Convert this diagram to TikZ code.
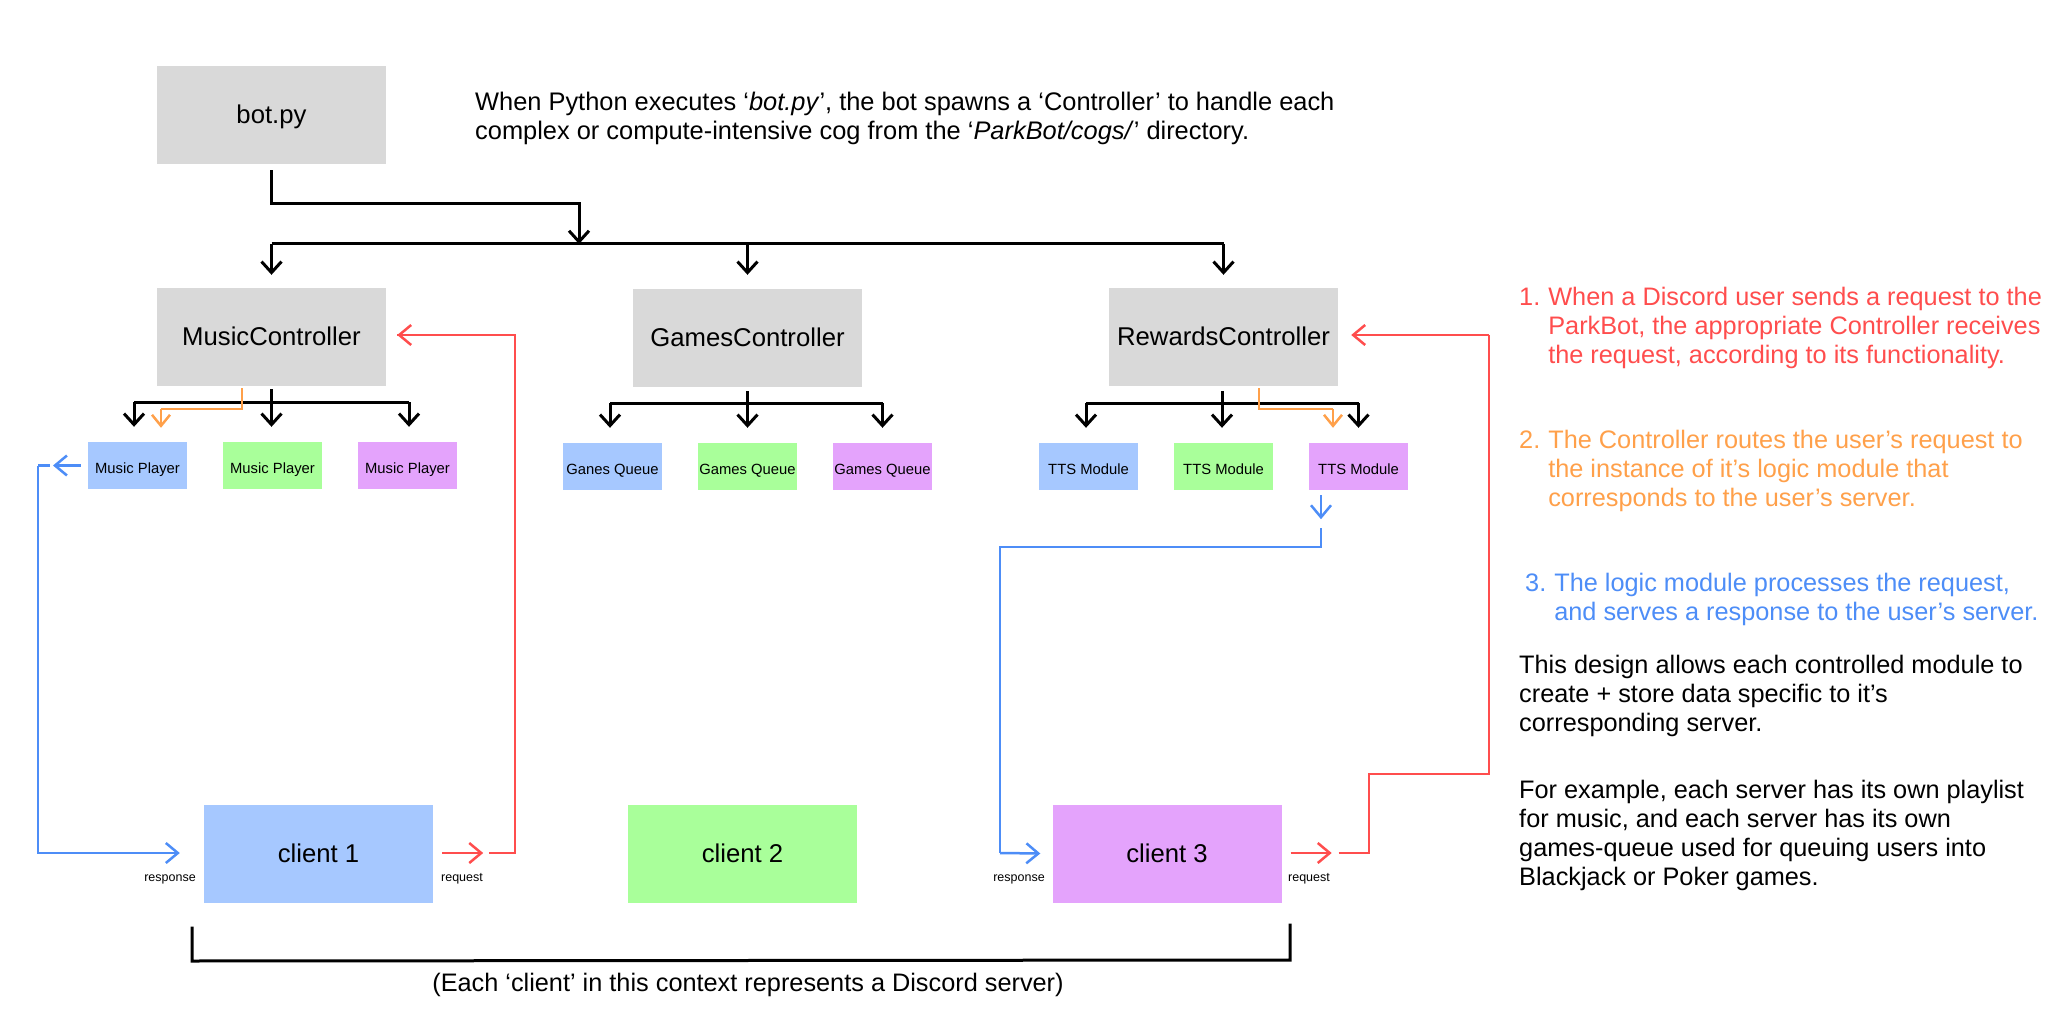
\documentclass[tikz,border=0pt]{standalone}
\usepackage{fontspec}
\setmainfont{Liberation Sans}
\usetikzlibrary{arrows.meta,calc}
\definecolor{boxgray}{HTML}{D9D9D9}
\definecolor{boxblue}{HTML}{A6C8FF}
\definecolor{boxgreen}{HTML}{A9FF9A}
\definecolor{boxpurple}{HTML}{E4A3FC}
\definecolor{linered}{HTML}{FF4D4D}
\definecolor{lineorange}{HTML}{FFA04A}
\definecolor{lineblue}{HTML}{4D8DF7}
\begin{document}
\begin{tikzpicture}[x=1pt,y=-1pt,
  bigbox/.style={fill=boxgray, minimum width=229pt, minimum height=98pt, inner sep=0pt, text height=17pt, text depth=0pt, font=\fontsize{25.7}{28}\selectfont},
  clientbox/.style={minimum width=229pt, minimum height=98pt, inner sep=0pt, text height=17.5pt, text depth=0pt, font=\fontsize{25.7}{28}\selectfont},
  smallbox/.style={minimum width=99pt, minimum height=47pt, inner sep=0pt, text height=15pt, text depth=0pt, font=\fontsize{14.8}{17}\selectfont},
  blk/.style={line width=3pt, black},
  blkarr/.style={blk, -{Straight Barb[length=11pt,width=20pt,line width=3pt]}},
  redln/.style={line width=2.5pt, linered},
  redarr/.style={redln, -{Straight Barb[length=12pt,width=20pt,line width=2.5pt]}},
  blueln/.style={line width=2.5pt, lineblue},
  bluearr/.style={blueln, -{Straight Barb[length=12pt,width=20pt,line width=2.5pt]}},
  orarr/.style={line width=2.5pt, lineorange, -{Straight Barb[length=11pt,width=18pt,line width=2.5pt]}},
  lbl/.style={font=\fontsize{12.5}{15}\selectfont, inner sep=0pt, anchor=base},
  note/.style={inner sep=0pt, align=left, font=\fontsize{25.3}{29}\selectfont}
]
\useasboundingbox (0,0) rectangle (2070,1024);

% main boxes
\node[bigbox] (bot) at (271.5,115) {bot.py};
\node[bigbox] (mc) at (271.5,337) {MusicController};
\node[bigbox] (gc) at (747.5,338) {GamesController};
\node[bigbox] (rc) at (1223.5,337) {RewardsController};

% modules
\node[smallbox, fill=boxblue] (mp1) at (137.5,465.5) {Music Player};
\node[smallbox, fill=boxgreen] (mp2) at (272.5,465.5) {Music Player};
\node[smallbox, fill=boxpurple] (mp3) at (407.5,465.5) {Music Player};
\node[smallbox, fill=boxblue] (gq1) at (612.5,466.5) {Ganes Queue};
\node[smallbox, fill=boxgreen] (gq2) at (747.5,466.5) {Games Queue};
\node[smallbox, fill=boxpurple] (gq3) at (882.5,466.5) {Games Queue};
\node[smallbox, fill=boxblue] (tt1) at (1088.5,466.5) {TTS Module};
\node[smallbox, fill=boxgreen] (tt2) at (1223.5,466.5) {TTS Module};
\node[smallbox, fill=boxpurple] (tt3) at (1358.5,466.5) {TTS Module};

% clients
\node[clientbox, fill=boxblue] (c1) at (318.5,854) {client 1};
\node[clientbox, fill=boxgreen] (c2) at (742.5,854) {client 2};
\node[clientbox, fill=boxpurple] (c3) at (1167,853.5) {client 3};

% text
\node[note, anchor=west, font=\fontsize{25.4}{29}\selectfont] (desc) at (475,118.5)
  {When Python executes ‘\textit{bot.py}’, the bot spawns a ‘Controller’ to handle each\\
   complex or compute-intensive cog from the ‘\textit{ParkBot/cogs/}’ directory.};

\node[note, anchor=west, text=linered] (n1) at (1519,329)
  {\begin{tabular}{@{}l@{\hspace{8pt}}l@{}}1.&When a Discord user sends a request to the\\
   &ParkBot, the appropriate Controller receives\\
   &the request, according to its functionality.\end{tabular}};
\node[note, anchor=west, text=lineorange] (n2) at (1519,472)
  {\begin{tabular}{@{}l@{\hspace{8pt}}l@{}}2.&The Controller routes the user’s request to\\
   &the instance of it’s logic module that\\
   &corresponds to the user’s server.\end{tabular}};
\node[note, anchor=west, text=lineblue] (n3) at (1525,600)
  {\begin{tabular}{@{}l@{\hspace{8pt}}l@{}}3.&The logic module processes the request,\\
   &and serves a response to the user’s server.\end{tabular}};
\node[note, anchor=west] (p1) at (1519,696)
  {This design allows each controlled module to\\
   create + store data specific to it’s\\
   corresponding server.};
\node[note, anchor=west] (p2) at (1519,835.5)
  {For example, each server has its own playlist\\
   for music, and each server has its own\\
   games-queue used for queuing users into\\
   Blackjack or Poker games.};

\node[note, font=\fontsize{25.3}{28}\selectfont] (cap) at (748,985)
  {(Each ‘client’ in this context represents a Discord server)};

% labels
\node[lbl] (l1) at (170,881) {response};
\node[lbl] (l2) at (462,881) {request};
\node[lbl] (l3) at (1019,881) {response};
\node[lbl] (l4) at (1309,881) {request};

% top tree
\coordinate (j0) at (579,244);
\coordinate (bl) at (271.5,244);
\coordinate (br) at (1223.5,244);
\draw[blk] ($(bot.south)+(0,6)$) |- (579,204) -- (j0);
\draw[blkarr] (579,204) -- (j0);
\draw[blk] (bl) -- (br);
\draw[blkarr] (bl) -- ($(mc.north)+(0,-13)$);
\draw[blkarr] (747.5,244) -- ($(gc.north)+(0,-14)$);
\draw[blkarr] (br) -- ($(rc.north)+(0,-13)$);

% music subtree
\draw[blk] ($(mc.south)+(0,3)$) -- (271.5,402);
\draw[blk] (134,402) -- (409,402);
\draw[blkarr] (134,402) -- ($(mp1.north)+(-3.5,-15)$);
\draw[blkarr] (271.5,402) -- ($(mp2.north)+(-1,-15)$);
\draw[blkarr] (409,402) -- ($(mp3.north)+(1.5,-15)$);
\draw[line width=2.5pt, lineorange] ($(mc.south)+(-29.5,2)$) |- (161,409);
\draw[orarr] (161,409) -- ($(mp1.north)+(23.5,-14)$);

% games subtree
\draw[blk] ($(gc.south)+(0,4)$) -- (747.5,403);
\draw[blk] (610,403) -- (882.5,403);
\draw[blkarr] (610,403) -- ($(gq1.north)+(-2.5,-15)$);
\draw[blkarr] (747.5,403) -- ($(gq2.north)+(0,-15)$);
\draw[blkarr] (882.5,403) -- ($(gq3.north)+(0,-15)$);

% rewards subtree
\draw[blk] ($(rc.south)+(-1.5,5)$) -- (1222,403);
\draw[blk] (1086,403) -- (1358.5,403);
\draw[blkarr] (1086,403) -- ($(tt1.north)+(-2.5,-15)$);
\draw[blkarr] (1222,403) -- ($(tt2.north)+(-1.5,-15)$);
\draw[blkarr] (1358.5,403) -- ($(tt3.north)+(0,-15)$);
\draw[line width=2.5pt, lineorange] ($(rc.south)+(35.5,2)$) |- (1333,409);
\draw[orarr] (1333,409) -- ($(tt3.north)+(-25.5,-15)$);

% response client 1
\draw[bluearr] ($(mp1.west)+(-7,0)$) -- (53,465.5);
\draw[blueln] (50,465.5) -- (38,465.5);
\draw[bluearr] (38,465.5) |- ($(c1.west)+(-24,-1)$);

% request client 1
\draw[redarr] ($(c1.east)+(9,-1)$) -- ($(c1.east)+(50,-1)$);
\draw[redln] ($(c1.east)+(56,-1)$) -- (515,853) |- ($(mc.east)+(11,-2)$);
\draw[redarr] (515,335) -- ($(mc.east)+(11,-2)$);

% response client 3
\draw[bluearr] ($(tt3.south)+(-37.5,5)$) -- ($(tt3.south)+(-37.5,29)$);
\draw[blueln] ($(tt3.south)+(-37.5,38)$) -- (1321,547) -| (1000,853);
\draw[bluearr] (1000,853) -- ($(c3.west)+(-12,0)$);

% request client 3
\draw[redarr] ($(c3.east)+(9,-0.5)$) -- ($(c3.east)+(50,-0.5)$);
\draw[redln] ($(c3.east)+(57,-0.5)$) -- (1369,853) |- (1489,774) -- (1489,335);
\draw[redarr] (1489,335) -- ($(rc.east)+(13,-2)$);

% bracket
\coordinate (k1) at (192,928);
\coordinate (k2) at (1290,925);
\draw[blk, line cap=rect] (k1) -- (192,961) -- (1290,960) -- (k2);
\end{tikzpicture}
\end{document}
